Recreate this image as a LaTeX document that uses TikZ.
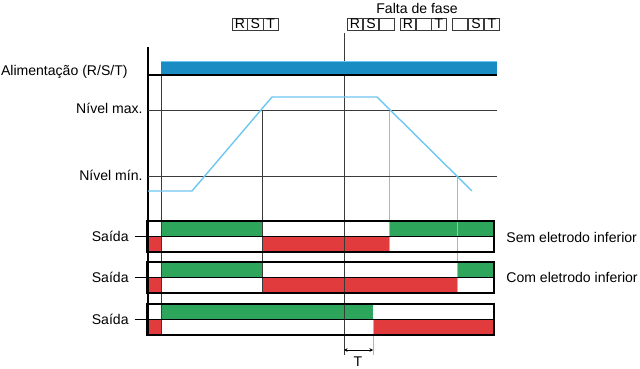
\documentclass[tikz,border=0pt]{standalone}
\usepackage{fontspec}
\setmainfont{Liberation Sans}
\usetikzlibrary{arrows.meta}

\definecolor{feedblue}{HTML}{1A8CC4}
\definecolor{levelblue}{HTML}{6EC6F2}
\definecolor{outgreen}{HTML}{2DA55B}
\definecolor{outred}{HTML}{E13B3E}
\definecolor{gridgray}{HTML}{3A3A3A}
\definecolor{faintgray}{HTML}{B4B4B4}

\tikzset{
  lbl/.style={font=\fontsize{12}{14}\selectfont, inner sep=1pt},
  cell/.style={draw=gridgray, line width=0.5pt, minimum width=0.46cm,
    minimum height=0.36cm, inner sep=0pt, font=\fontsize{12}{12}\selectfont},
  grid/.style={gridgray, line width=0.6pt},
  faint/.style={faintgray, line width=0.6pt}
}

\begin{document}
\begin{tikzpicture}[x=0.03cm, y=-0.03cm]
  \useasboundingbox (0,0) rectangle (640,369);

  \coordinate (o) at (148,47);
  \coordinate (ob) at (148,335);
  \coordinate (s) at (161,61);
  \coordinate (sb) at (161,335);
  \coordinate (up) at (262,110);
  \coordinate (upb) at (262,293);
  \coordinate (fail) at (344,33);
  \coordinate (failb) at (344,355);
  \coordinate (dn) at (389,110);
  \coordinate (dnb) at (389,251);
  \coordinate (lo) at (457,176);
  \coordinate (lob) at (457,293);
  \coordinate (t) at (373,319);
  \coordinate (tb) at (373,355);
  \coordinate (c1) at (148,191);
  \coordinate (c2) at (192,191);
  \coordinate (c3) at (272,97);
  \coordinate (c4) at (377,97);
  \coordinate (c5) at (472,191);

  % output bars
  \foreach \top/\a/\b [count=\i] in {221/262/389, 262/262/457, 304/373/494} {
    \pgfmathsetmacro\mid{\top+15.5}
    \pgfmathsetmacro\bot{\top+31}
    \fill[outgreen] (161,\top) rectangle (\a,\mid);
    \fill[outgreen] (\b,\top) rectangle (494,\mid);
    \fill[outred] (147,\mid) rectangle (161,\bot);
    \fill[outred] (\a,\mid) rectangle (\b,\bot);
  }

  % time marks
  \draw[faint] (dn) -- (dnb);
  \draw[faint] (lo) -- (lob);
  \draw[faint] (t) -- (tb);
  \draw[grid] (up) -- (upb);
  \draw[grid] (fail) -- (failb);
  \draw[grid, line width=0.8pt] (s) -- (sb);

  \foreach \top [count=\i] in {221, 262, 304} {
    \pgfmathsetmacro\mid{\top+15.5}
    \pgfmathsetmacro\bot{\top+31}
    \draw[line width=0.9pt] (147,\top) rectangle (494,\bot);
    \draw[line width=0.9pt] (147,\mid) -- (494,\mid);
    \node[lbl, anchor=east] (out\i) at (130,\mid) {Saída};
    \coordinate (tick\i) at (148,\mid);
    \draw[line width=0.9pt] ([xshift=4pt]out\i.east) -- (tick\i);
  }

  % supply
  \fill[feedblue] (s) rectangle (497,75);
  \draw[levelblue, line width=0.4pt] (s) -- (497,61);
  \draw[line width=1.1pt] (148,75) -- (497,75);
  \draw[line width=1.2pt] (o) -- (ob);

  % levels
  \draw[grid] (148,110) -- (497,110);
  \draw[grid] (148,176) -- (497,176);
  \draw[levelblue, line width=1.2pt] (c1) -- (c2) -- (c3) -- (c4) -- (c5);

  % labels
  \node[lbl, anchor=east] (feed) at (129,72) {Alimentação (R/S/T)};
  \node[lbl, anchor=east] (max) at (144,108) {Nível max.};
  \node[lbl, anchor=east] (min) at (144,175) {Nível mín.};
  \node[lbl, anchor=west] (sem) at (505,237) {Sem eletrodo inferior};
  \node[lbl, anchor=west] (com) at (505,277) {Com eletrodo inferior};
  \node[lbl] (loss) at (417,8) {Falta de fase};

  \foreach \x/\l [count=\i] in {240/R, 255.3/S, 270.6/T}
    \node[cell] (rst\i) at (\x,24) {\l};
  \foreach \x/\l [count=\i] in {355/R, 371/S, 387/, 408/R, 423.5/, 439/T, 460/, 476/S, 492/T}
    \node[cell] (miss\i) at (\x,24) {\l};

  % delay
  \coordinate (d1) at (344,350);
  \coordinate (d2) at (373,350);
  \draw[{Stealth[length=3pt,width=3pt]}-{Stealth[length=3pt,width=3pt]}, line width=0.5pt] (d1) -- (d2);
  \node[lbl] (delay) at (358,362) {T};
\end{tikzpicture}
\end{document}
